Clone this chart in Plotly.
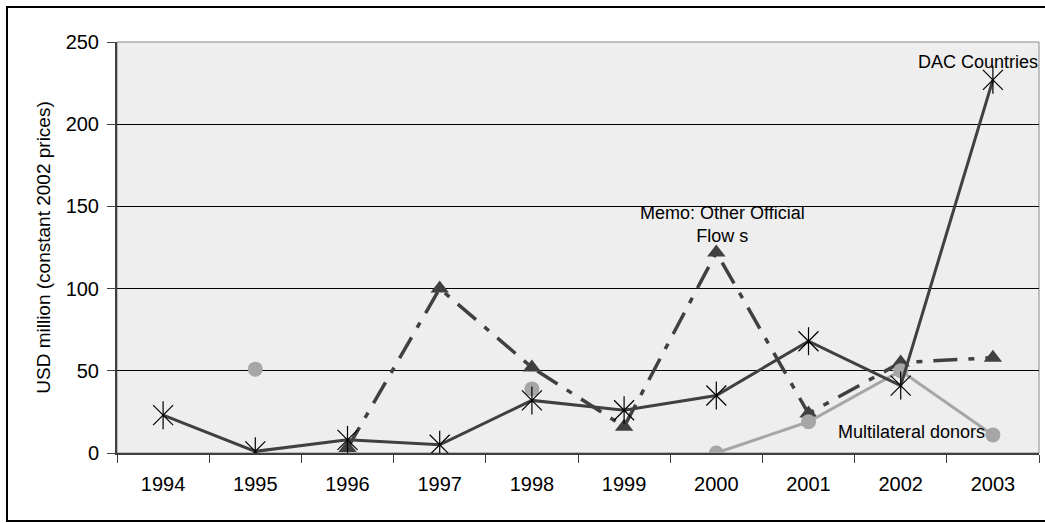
import plotly.graph_objects as go

# Years on the category axis
years = ["1994", "1995", "1996", "1997", "1998", "1999", "2000", "2001", "2002", "2003"]

# USD million, constant 2002 prices
dac_countries = [23, 1, 8, 5, 32, 26, 35, 68, 41, 227]
other_official = [None, None, 3, 100, 52, 16, 122, 24, 55, 58]
multilateral = [None, 51, None, None, 39, None, 0, 19, 50, 11]

y_ticks = [0, 50, 100, 150, 200, 250]

W, H = 1045, 523
ML, MR, MT, MB = 117, 6, 42, 70
PW, PH = W - ML - MR, H - MT - MB

FONT = "Liberation Sans, Arial, sans-serif"
DARK = "#404040"
LIGHT = "#A6A6A6"

fig = go.Figure()

# Memo: Other Official Flows - long-dash/short-dash line with triangles
fig.add_trace(go.Scatter(
    x=years, y=other_official, mode="lines+markers",
    line=dict(color=DARK, width=3.5, dash="24px,11px,6px,11px"),
    marker=dict(symbol="triangle-up", size=16, color=DARK),
    connectgaps=False, showlegend=False,
))

# Multilateral donors - light grey line with circles
fig.add_trace(go.Scatter(
    x=years, y=multilateral, mode="lines+markers",
    line=dict(color=LIGHT, width=3),
    marker=dict(symbol="circle", size=15, color=LIGHT),
    connectgaps=False, showlegend=False,
))

# DAC Countries - solid line with six-armed star markers
fig.add_trace(go.Scatter(
    x=years, y=dac_countries, mode="lines+markers",
    line=dict(color=DARK, width=3),
    marker=dict(symbol="x-thin-open", size=20, color="black",
                line=dict(color="black", width=1.2)),
    showlegend=False,
))
fig.add_trace(go.Scatter(
    x=years, y=dac_countries, mode="markers",
    marker=dict(symbol="line-ns-open", size=20, color="black",
                line=dict(color="black", width=1.2)),
    showlegend=False,
))

# series labels (category axis positions are given as indices)
annot_font = dict(family=FONT, size=18, color="black")
fig.add_annotation(x=years.index("2003"), y=238, text="DAC Countries",
                   showarrow=False, xshift=-15, font=annot_font)
fig.add_annotation(x=years.index("2000"), y=139,
                   text="Memo: Other Official<br>Flow s",
                   showarrow=False, xshift=6, font=annot_font)
fig.add_annotation(x=years.index("2002"), y=13, text="Multilateral donors",
                   showarrow=False, xshift=11, font=annot_font)


def px_x(p):
    return (p - ML) / PW


def px_y(p):
    return (H - MB - p) / PH


# plot-area frame (grey) and the outer chart border (black)
fig.add_shape(type="rect", xref="paper", yref="paper", x0=0, x1=1, y0=0, y1=1,
              line=dict(color="#888888", width=1), fillcolor="rgba(0,0,0,0)",
              layer="below")
fig.add_shape(type="rect", xref="paper", yref="paper",
              x0=px_x(7), x1=px_x(1050), y0=px_y(7), y1=px_y(521),
              line=dict(color="black", width=2), fillcolor="rgba(0,0,0,0)")

fig.update_layout(
    width=W, height=H,
    margin=dict(l=ML, r=MR, t=MT, b=MB, pad=0),
    paper_bgcolor="white",
    plot_bgcolor="#EEEEEE",
    font=dict(family=FONT, color="black"),
    showlegend=False,
)

fig.update_xaxes(
    type="category", categoryorder="array", categoryarray=years,
    range=[-0.5, 9.5],
    showgrid=False, zeroline=False,
    showline=True, linecolor=DARK, linewidth=2,
    ticks="outside", tickson="boundaries", ticklen=8, tickcolor=DARK, tickwidth=1,
    tickfont=dict(family=FONT, size=20, color="black"),
    ticklabelstandoff=12,
)

fig.update_yaxes(
    range=[0, 250], tickvals=y_ticks, ticktext=[str(v) for v in y_ticks],
    showgrid=True, gridcolor="black", gridwidth=1,
    zeroline=False,
    showline=True, linecolor=DARK, linewidth=2,
    ticks="outside", ticklen=8, tickcolor=DARK, tickwidth=1,
    tickfont=dict(family=FONT, size=20, color="black"),
    ticklabelstandoff=4,
    title=dict(text="USD million (constant 2002 prices)",
               font=dict(family=FONT, size=19, color="black"), standoff=10),
)

fig.write_html("out.html")
